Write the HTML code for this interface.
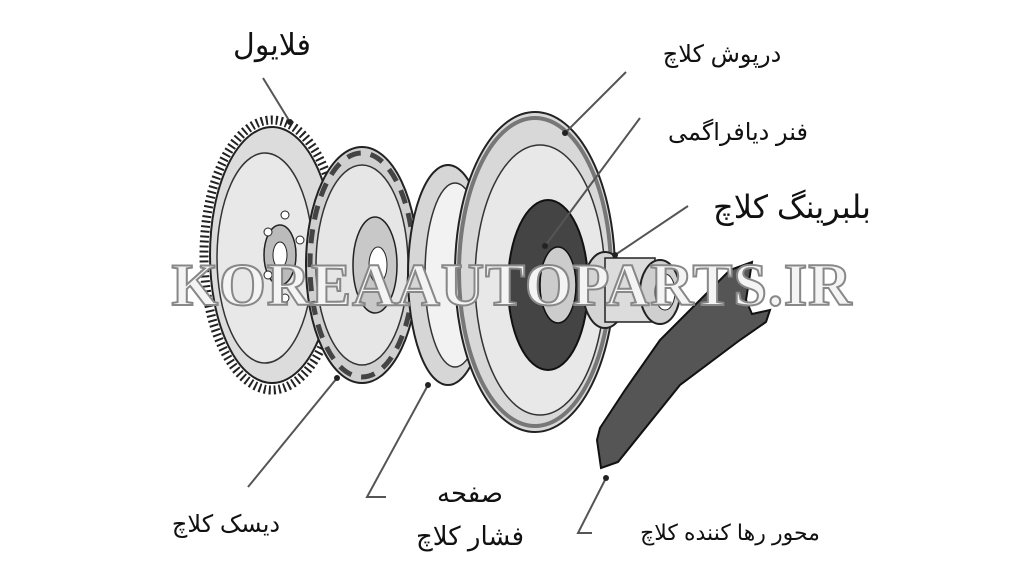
<!DOCTYPE html>
<html><head><meta charset="utf-8"><style>
html,body{margin:0;padding:0;background:#fff;}
svg{display:block}
.fa{font-family:"Liberation Sans","Noto Sans CJK SC","DejaVu Sans",sans-serif;fill:#111;}
</style></head><body>
<svg width="1024" height="576" viewBox="0 0 1024 576" xmlns="http://www.w3.org/2000/svg">
<rect width="1024" height="576" fill="#fff"/>
<!-- flywheel -->
<ellipse cx="272" cy="255" rx="68" ry="135" fill="#fff" stroke="#222" stroke-width="9" stroke-dasharray="2 3"/>
<ellipse cx="272" cy="255" rx="62" ry="128" fill="#dcdcdc" stroke="#222" stroke-width="2"/>
<ellipse cx="265" cy="258" rx="48" ry="105" fill="#e8e8e8" stroke="#333" stroke-width="1.5"/>
<ellipse cx="280" cy="255" rx="16" ry="30" fill="#bbb" stroke="#222" stroke-width="1.5"/>
<ellipse cx="280" cy="255" rx="7" ry="13" fill="#fff" stroke="#222"/>
<g fill="#fff" stroke="#222"><circle cx="285" cy="215" r="4"/><circle cx="300" cy="240" r="4"/><circle cx="300" cy="275" r="4"/><circle cx="285" cy="298" r="4"/><circle cx="268" cy="275" r="4"/><circle cx="268" cy="232" r="4"/></g>
<!-- clutch disc -->
<ellipse cx="362" cy="265" rx="56" ry="118" fill="#d0d0d0" stroke="#222" stroke-width="2"/>
<ellipse cx="362" cy="265" rx="52" ry="112" fill="none" stroke="#444" stroke-width="5" stroke-dasharray="14 10"/>
<ellipse cx="362" cy="265" rx="46" ry="100" fill="#e6e6e6" stroke="#333" stroke-width="1.5"/>
<ellipse cx="375" cy="265" rx="22" ry="48" fill="#c8c8c8" stroke="#222" stroke-width="1.5"/>
<ellipse cx="378" cy="265" rx="9" ry="18" fill="#fff" stroke="#222"/>
<!-- pressure plate -->
<ellipse cx="448" cy="275" rx="40" ry="110" fill="#d6d6d6" stroke="#222" stroke-width="2"/>
<ellipse cx="455" cy="275" rx="30" ry="92" fill="#f2f2f2" stroke="#333" stroke-width="1.5"/>
<!-- cover -->
<ellipse cx="535" cy="272" rx="80" ry="160" fill="#d8d8d8" stroke="#222" stroke-width="2"/>
<ellipse cx="535" cy="272" rx="76" ry="154" fill="none" stroke="#777" stroke-width="4"/>
<ellipse cx="540" cy="280" rx="65" ry="135" fill="#e8e8e8" stroke="#333" stroke-width="1.5"/>
<!-- diaphragm -->
<ellipse cx="548" cy="285" rx="40" ry="85" fill="#444" stroke="#111" stroke-width="2"/>
<ellipse cx="558" cy="285" rx="18" ry="38" fill="#ccc" stroke="#111" stroke-width="1.5"/>
<!-- bearing -->
<ellipse cx="605" cy="290" rx="22" ry="38" fill="#d4d4d4" stroke="#222" stroke-width="2"/>
<rect x="605" y="258" width="50" height="64" fill="#dcdcdc" stroke="#222" stroke-width="1.5"/>
<ellipse cx="660" cy="292" rx="20" ry="32" fill="#cfcfcf" stroke="#222" stroke-width="2"/>
<ellipse cx="665" cy="292" rx="10" ry="18" fill="#fff" stroke="#222"/>
<!-- fork -->
<polygon points="597,440 601,468 618,462 680,385 740,340 766,322 770,310 752,314 746,300 752,262 730,270 700,300 660,340 625,390 600,428" fill="#555" stroke="#111" stroke-width="2"/>
<!-- watermark -->
<text x="512" y="305" text-anchor="middle" font-family="Liberation Serif,serif" font-weight="bold" font-size="60" letter-spacing="1" fill="#f4f4f4" stroke="#888" stroke-width="2">KOREAAUTOPARTS.IR</text>
<!-- leader lines -->
<g stroke="#555" stroke-width="2" fill="none">
<line x1="263" y1="78" x2="290" y2="122"/>
<line x1="626" y1="72" x2="565" y2="133"/>
<line x1="640" y1="118" x2="545" y2="246"/>
<line x1="688" y1="206" x2="615" y2="255"/>
<line x1="248" y1="487" x2="337" y2="378"/>
<polyline points="386,497 367,497 428,385"/>
<polyline points="592,533 578,533 606,478"/>
</g>
<g fill="#222">
<circle cx="290" cy="122" r="3"/><circle cx="565" cy="133" r="3"/><circle cx="545" cy="246" r="3"/>
<circle cx="615" cy="255" r="3"/><circle cx="337" cy="378" r="3"/><circle cx="428" cy="385" r="3"/><circle cx="606" cy="478" r="3"/>
</g>
<!-- labels -->
<text class="fa" x="272" y="55" font-size="30" text-anchor="middle">فلایول</text>
<text class="fa" x="722" y="62" font-size="24" text-anchor="middle">درپوش کلاچ</text>
<text class="fa" x="738" y="140" font-size="24" text-anchor="middle">فنر دیافراگمی</text>
<text class="fa" x="792" y="218" font-size="32" text-anchor="middle">بلبرینگ کلاچ</text>
<text class="fa" x="226" y="532" font-size="24" text-anchor="middle">دیسک کلاچ</text>
<text class="fa" x="470" y="502" font-size="26" text-anchor="middle">صفحه</text>
<text class="fa" x="470" y="545" font-size="26" text-anchor="middle">فشار کلاچ</text>
<text class="fa" x="730" y="540" font-size="22" text-anchor="middle">محور رها کننده کلاچ</text>
</svg>
</body></html>
